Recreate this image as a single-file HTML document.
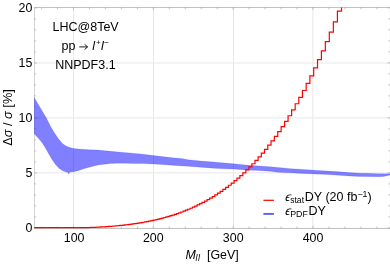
<!DOCTYPE html>
<html><head><meta charset="utf-8"><style>
html,body{margin:0;padding:0;background:#fff;}
svg{display:block;font-family:"Liberation Sans",sans-serif;font-size:12.4px;fill:#000;}
.i{font-style:italic;}
</style></head><body>
<svg width="390" height="264" viewBox="0 0 390 264">
<rect width="390" height="264" fill="#fff"/>
<defs><clipPath id="c"><rect x="34.2" y="7.45" width="356.2" height="222.0"/></clipPath></defs>
<g stroke="#e7e7e7" stroke-width="1" fill="none"><line x1="73.5" y1="7.45" x2="73.5" y2="228.45"/><line x1="153.5" y1="7.45" x2="153.5" y2="228.45"/><line x1="233.5" y1="7.45" x2="233.5" y2="228.45"/><line x1="312.9" y1="7.45" x2="312.9" y2="228.45"/><line x1="34.5" y1="172.9" x2="390.4" y2="172.9"/><line x1="34.5" y1="117.9" x2="390.4" y2="117.9"/><line x1="34.5" y1="63.0" x2="390.4" y2="63.0"/></g>
<g stroke="#a0a0a0" stroke-width="0.6" fill="none"><line x1="41.6" y1="7.45" x2="41.6" y2="9.35"/><line x1="41.6" y1="228.45" x2="41.6" y2="226.54999999999998"/><line x1="57.5" y1="7.45" x2="57.5" y2="9.35"/><line x1="57.5" y1="228.45" x2="57.5" y2="226.54999999999998"/><line x1="73.5" y1="7.45" x2="73.5" y2="10.05"/><line x1="73.5" y1="228.45" x2="73.5" y2="225.85"/><line x1="89.5" y1="7.45" x2="89.5" y2="9.35"/><line x1="89.5" y1="228.45" x2="89.5" y2="226.54999999999998"/><line x1="105.4" y1="7.45" x2="105.4" y2="9.35"/><line x1="105.4" y1="228.45" x2="105.4" y2="226.54999999999998"/><line x1="121.4" y1="7.45" x2="121.4" y2="9.35"/><line x1="121.4" y1="228.45" x2="121.4" y2="226.54999999999998"/><line x1="137.4" y1="7.45" x2="137.4" y2="9.35"/><line x1="137.4" y1="228.45" x2="137.4" y2="226.54999999999998"/><line x1="153.3" y1="7.45" x2="153.3" y2="10.05"/><line x1="153.3" y1="228.45" x2="153.3" y2="225.85"/><line x1="169.3" y1="7.45" x2="169.3" y2="9.35"/><line x1="169.3" y1="228.45" x2="169.3" y2="226.54999999999998"/><line x1="185.3" y1="7.45" x2="185.3" y2="9.35"/><line x1="185.3" y1="228.45" x2="185.3" y2="226.54999999999998"/><line x1="201.2" y1="7.45" x2="201.2" y2="9.35"/><line x1="201.2" y1="228.45" x2="201.2" y2="226.54999999999998"/><line x1="217.2" y1="7.45" x2="217.2" y2="9.35"/><line x1="217.2" y1="228.45" x2="217.2" y2="226.54999999999998"/><line x1="233.2" y1="7.45" x2="233.2" y2="10.05"/><line x1="233.2" y1="228.45" x2="233.2" y2="225.85"/><line x1="249.1" y1="7.45" x2="249.1" y2="9.35"/><line x1="249.1" y1="228.45" x2="249.1" y2="226.54999999999998"/><line x1="265.1" y1="7.45" x2="265.1" y2="9.35"/><line x1="265.1" y1="228.45" x2="265.1" y2="226.54999999999998"/><line x1="281.1" y1="7.45" x2="281.1" y2="9.35"/><line x1="281.1" y1="228.45" x2="281.1" y2="226.54999999999998"/><line x1="297.0" y1="7.45" x2="297.0" y2="9.35"/><line x1="297.0" y1="228.45" x2="297.0" y2="226.54999999999998"/><line x1="313.0" y1="7.45" x2="313.0" y2="10.05"/><line x1="313.0" y1="228.45" x2="313.0" y2="225.85"/><line x1="329.0" y1="7.45" x2="329.0" y2="9.35"/><line x1="329.0" y1="228.45" x2="329.0" y2="226.54999999999998"/><line x1="344.9" y1="7.45" x2="344.9" y2="9.35"/><line x1="344.9" y1="228.45" x2="344.9" y2="226.54999999999998"/><line x1="360.9" y1="7.45" x2="360.9" y2="9.35"/><line x1="360.9" y1="228.45" x2="360.9" y2="226.54999999999998"/><line x1="376.9" y1="7.45" x2="376.9" y2="9.35"/><line x1="376.9" y1="228.45" x2="376.9" y2="226.54999999999998"/><line x1="34.5" y1="227.9" x2="36.9" y2="227.9"/><line x1="390.4" y1="227.9" x2="387.5" y2="227.9"/><line x1="34.5" y1="216.9" x2="36.1" y2="216.9"/><line x1="390.4" y1="216.9" x2="388.29999999999995" y2="216.9"/><line x1="34.5" y1="205.9" x2="36.1" y2="205.9"/><line x1="390.4" y1="205.9" x2="388.29999999999995" y2="205.9"/><line x1="34.5" y1="194.9" x2="36.1" y2="194.9"/><line x1="390.4" y1="194.9" x2="388.29999999999995" y2="194.9"/><line x1="34.5" y1="183.9" x2="36.1" y2="183.9"/><line x1="390.4" y1="183.9" x2="388.29999999999995" y2="183.9"/><line x1="34.5" y1="172.9" x2="36.9" y2="172.9"/><line x1="390.4" y1="172.9" x2="387.5" y2="172.9"/><line x1="34.5" y1="161.9" x2="36.1" y2="161.9"/><line x1="390.4" y1="161.9" x2="388.29999999999995" y2="161.9"/><line x1="34.5" y1="150.9" x2="36.1" y2="150.9"/><line x1="390.4" y1="150.9" x2="388.29999999999995" y2="150.9"/><line x1="34.5" y1="139.9" x2="36.1" y2="139.9"/><line x1="390.4" y1="139.9" x2="388.29999999999995" y2="139.9"/><line x1="34.5" y1="128.9" x2="36.1" y2="128.9"/><line x1="390.4" y1="128.9" x2="388.29999999999995" y2="128.9"/><line x1="34.5" y1="117.9" x2="36.9" y2="117.9"/><line x1="390.4" y1="117.9" x2="387.5" y2="117.9"/><line x1="34.5" y1="106.9" x2="36.1" y2="106.9"/><line x1="390.4" y1="106.9" x2="388.29999999999995" y2="106.9"/><line x1="34.5" y1="95.9" x2="36.1" y2="95.9"/><line x1="390.4" y1="95.9" x2="388.29999999999995" y2="95.9"/><line x1="34.5" y1="84.9" x2="36.1" y2="84.9"/><line x1="390.4" y1="84.9" x2="388.29999999999995" y2="84.9"/><line x1="34.5" y1="73.9" x2="36.1" y2="73.9"/><line x1="390.4" y1="73.9" x2="388.29999999999995" y2="73.9"/><line x1="34.5" y1="62.9" x2="36.9" y2="62.9"/><line x1="390.4" y1="62.9" x2="387.5" y2="62.9"/><line x1="34.5" y1="51.9" x2="36.1" y2="51.9"/><line x1="390.4" y1="51.9" x2="388.29999999999995" y2="51.9"/><line x1="34.5" y1="40.9" x2="36.1" y2="40.9"/><line x1="390.4" y1="40.9" x2="388.29999999999995" y2="40.9"/><line x1="34.5" y1="29.9" x2="36.1" y2="29.9"/><line x1="390.4" y1="29.9" x2="388.29999999999995" y2="29.9"/><line x1="34.5" y1="18.9" x2="36.1" y2="18.9"/><line x1="390.4" y1="18.9" x2="388.29999999999995" y2="18.9"/><line x1="34.5" y1="7.9" x2="36.9" y2="7.9"/><line x1="390.4" y1="7.9" x2="387.5" y2="7.9"/></g>
<g stroke="#9a9a9a" fill="none"><path d="M34.5,7.45H390.4M34.5,228.45H390.4" stroke-width="0.65"/><path d="M34.5,7.45V228.45M390.4,7.45V228.45" stroke-width="0.45"/></g>
<g clip-path="url(#c)">
<path d="M34.0,97.3 L37.7,103.5 L41.6,110.0 L45.5,116.4 L47.4,120.0 L50.6,126.4 L54.5,132.9 L58.4,138.7 L62.2,143.2 L64.5,145.0 L66.1,146.0 L68.4,146.9 L69.9,147.6 L73.8,148.5 L81.2,149.3 L90.0,149.8 L97.9,150.1 L110.8,151.3 L123.7,152.5 L135.0,153.4 L142.9,154.2 L153.5,155.6 L166.1,157.0 L175.0,157.9 L181.4,158.4 L187.9,159.7 L200.8,161.1 L213.7,162.1 L225.0,163.0 L233.5,163.8 L245.8,165.1 L258.7,166.0 L270.0,166.7 L277.9,167.4 L290.8,168.7 L303.7,169.6 L315.0,170.3 L322.9,170.8 L335.8,171.6 L348.7,172.6 L360.0,173.2 L365.6,173.3 L378.5,173.8 L390.0,173.7 L390.0,175.1 L383.6,176.4 L378.5,176.7 L365.6,176.5 L360.0,176.4 L348.7,175.9 L335.8,175.1 L322.9,174.3 L315.0,174.0 L303.7,173.5 L290.8,172.8 L277.9,172.2 L270.0,171.3 L258.7,170.6 L245.8,170.0 L233.5,169.1 L225.0,168.8 L213.7,168.2 L200.8,167.2 L187.9,166.3 L175.0,165.4 L166.1,164.7 L153.5,164.0 L142.9,163.5 L135.0,163.5 L123.7,163.2 L117.2,163.2 L110.8,163.6 L104.3,164.2 L97.9,165.1 L90.0,167.0 L83.8,168.8 L78.7,170.4 L73.8,171.7 L70.9,172.1 L69.3,172.6 L68.6,174.1 L67.9,172.6 L66.4,172.1 L63.2,171.0 L59.3,168.6 L55.5,164.6 L51.6,158.8 L47.7,152.0 L44.7,146.8 L41.6,141.9 L37.7,137.4 L34.0,133.5Z" fill="#0000ff" fill-opacity="0.5" stroke="#0000ff" stroke-opacity="0.18" stroke-width="0.7"/>
<path d="M32.18,227.67 L32.64,227.67 L32.64,227.67 L33.11,227.67 L33.11,227.67 L33.58,227.67 L33.58,227.67 L34.05,227.67 L34.05,227.67 L34.54,227.67 L34.54,227.67 L35.02,227.67 L35.02,227.67 L35.52,227.67 L35.52,227.67 L36.02,227.67 L36.02,227.67 L36.52,227.67 L36.52,227.67 L37.03,227.67 L37.03,227.67 L37.55,227.67 L37.55,227.67 L38.07,227.67 L38.07,227.67 L38.60,227.67 L38.60,227.67 L39.14,227.67 L39.14,227.67 L39.68,227.67 L39.68,227.67 L40.23,227.67 L40.23,227.67 L40.78,227.67 L40.78,227.67 L41.35,227.67 L41.35,227.67 L41.92,227.67 L41.92,227.67 L42.49,227.67 L42.49,227.67 L43.07,227.67 L43.07,227.67 L43.66,227.67 L43.66,227.67 L44.26,227.67 L44.26,227.67 L44.87,227.67 L44.87,227.67 L45.48,227.67 L45.48,227.67 L46.09,227.67 L46.09,227.67 L46.72,227.67 L46.72,227.67 L47.35,227.67 L47.35,227.67 L48.00,227.67 L48.00,227.67 L48.64,227.67 L48.64,227.67 L49.30,227.67 L49.30,227.67 L49.97,227.67 L49.97,227.67 L50.64,227.67 L50.64,227.67 L51.32,227.67 L51.32,227.67 L52.01,227.67 L52.01,227.67 L52.70,227.67 L52.70,227.67 L53.41,227.67 L53.41,227.67 L54.12,227.67 L54.12,227.67 L54.85,227.67 L54.85,227.67 L55.58,227.67 L55.58,227.67 L56.32,227.67 L56.32,227.67 L57.06,227.67 L57.06,227.67 L57.82,227.67 L57.82,227.67 L58.59,227.67 L58.59,227.67 L59.36,227.67 L59.36,227.67 L60.15,227.67 L60.15,227.67 L60.94,227.67 L60.94,227.67 L61.75,227.67 L61.75,227.67 L62.56,227.67 L62.56,227.67 L63.39,227.67 L63.39,227.67 L64.22,227.67 L64.22,227.67 L65.06,227.67 L65.06,227.67 L65.92,227.67 L65.92,227.67 L66.78,227.67 L66.78,227.67 L67.65,227.67 L67.65,227.67 L68.54,227.67 L68.54,227.67 L69.43,227.67 L69.43,227.67 L70.34,227.67 L70.34,227.67 L71.26,227.67 L71.26,227.67 L72.19,227.67 L72.19,227.67 L73.12,227.67 L73.12,227.67 L74.08,227.67 L74.08,227.67 L75.04,227.67 L75.04,227.67 L76.01,227.67 L76.01,227.67 L77.00,227.67 L77.00,227.67 L77.99,227.67 L77.99,227.67 L79.00,227.67 L79.00,227.67 L80.02,227.67 L80.02,227.67 L81.05,227.67 L81.05,227.67 L82.10,227.67 L82.10,227.67 L83.16,227.67 L83.16,227.67 L84.23,227.67 L84.23,227.66 L85.31,227.66 L85.31,227.63 L86.41,227.63 L86.41,227.59 L87.52,227.59 L87.52,227.56 L88.64,227.56 L88.64,227.52 L89.78,227.52 L89.78,227.48 L90.93,227.48 L90.93,227.43 L92.09,227.43 L92.09,227.39 L93.27,227.39 L93.27,227.34 L94.46,227.34 L94.46,227.29 L95.67,227.29 L95.67,227.23 L96.89,227.23 L96.89,227.17 L98.13,227.17 L98.13,227.11 L99.38,227.11 L99.38,227.04 L100.64,227.04 L100.64,226.97 L101.92,226.97 L101.92,226.90 L103.22,226.90 L103.22,226.82 L104.53,226.82 L104.53,226.74 L105.86,226.74 L105.86,226.65 L107.20,226.65 L107.20,226.56 L108.56,226.56 L108.56,226.46 L109.93,226.46 L109.93,226.36 L111.33,226.36 L111.33,226.25 L112.73,226.25 L112.73,226.13 L114.16,226.13 L114.16,226.01 L115.60,226.01 L115.60,225.88 L117.06,225.88 L117.06,225.74 L118.54,225.74 L118.54,225.60 L120.04,225.60 L120.04,225.45 L121.55,225.45 L121.55,225.29 L123.08,225.29 L123.08,225.12 L124.63,225.12 L124.63,224.95 L126.20,224.95 L126.20,224.76 L127.79,224.76 L127.79,224.56 L129.39,224.56 L129.39,224.36 L131.02,224.36 L131.02,224.14 L132.66,224.14 L132.66,223.91 L134.33,223.91 L134.33,223.67 L136.01,223.67 L136.01,223.41 L137.72,223.41 L137.72,223.14 L139.44,223.14 L139.44,222.86 L141.19,222.86 L141.19,222.56 L142.96,222.56 L142.96,222.25 L144.74,222.25 L144.74,221.92 L146.55,221.92 L146.55,221.58 L148.39,221.58 L148.39,221.21 L150.24,221.21 L150.24,220.83 L152.12,220.83 L152.12,220.42 L154.01,220.42 L154.01,220.00 L155.93,220.00 L155.93,219.55 L157.88,219.55 L157.88,219.08 L159.85,219.08 L159.85,218.59 L161.84,218.59 L161.84,218.06 L163.85,218.06 L163.85,217.52 L165.89,217.52 L165.89,216.94 L167.95,216.94 L167.95,216.34 L170.04,216.34 L170.04,215.70 L172.16,215.70 L172.16,215.03 L174.29,215.03 L174.29,214.32 L176.46,214.32 L176.46,213.58 L178.65,213.58 L178.65,212.80 L180.87,212.80 L180.87,211.99 L183.11,211.99 L183.11,211.12 L185.38,211.12 L185.38,210.22 L187.68,210.22 L187.68,209.27 L190.00,209.27 L190.00,208.26 L192.35,208.26 L192.35,207.21 L194.74,207.21 L194.74,206.10 L197.15,206.10 L197.15,204.94 L199.58,204.94 L199.58,203.71 L202.05,203.71 L202.05,202.43 L204.55,202.43 L204.55,201.07 L207.08,201.07 L207.08,199.65 L209.63,199.65 L209.63,198.15 L212.22,198.15 L212.22,196.57 L214.84,196.57 L214.84,194.92 L217.49,194.92 L217.49,193.18 L220.18,193.18 L220.18,191.35 L222.89,191.35 L222.89,189.42 L225.64,189.42 L225.64,187.40 L228.42,187.40 L228.42,185.27 L231.23,185.27 L231.23,183.03 L234.08,183.03 L234.08,180.67 L236.96,180.67 L236.96,178.20 L239.88,178.20 L239.88,175.59 L242.83,175.59 L242.83,172.85 L245.82,172.85 L245.82,169.97 L248.84,169.97 L248.84,166.95 L251.90,166.95 L251.90,163.76 L254.99,163.76 L254.99,160.41 L258.13,160.41 L258.13,156.89 L261.30,156.89 L261.30,153.18 L264.51,153.18 L264.51,149.28 L267.75,149.28 L267.75,145.19 L271.04,145.19 L271.04,140.88 L274.36,140.88 L274.36,136.34 L277.73,136.34 L277.73,131.57 L281.13,131.57 L281.13,126.56 L284.58,126.56 L284.58,121.28 L288.07,121.28 L288.07,115.74 L291.60,115.74 L291.60,109.90 L295.17,109.90 L295.17,103.76 L298.79,103.76 L298.79,97.31 L302.44,97.31 L302.44,90.52 L306.15,90.52 L306.15,83.38 L309.89,83.38 L309.89,75.87 L313.68,75.87 L313.68,67.97 L317.52,67.97 L317.52,59.66 L321.40,59.66 L321.40,50.92 L325.33,50.92 L325.33,41.72 L329.31,41.72 L329.31,32.05 L333.34,32.05 L333.34,21.88 L337.41,21.88 L337.41,11.18 L341.53,11.18 L341.53,-0.07 L345.70,-0.07 L345.70,-11.91 L349.92,-11.91 L349.92,-24.36 L354.19,-24.36 L354.19,-37.45 L358.52,-37.45 L358.52,-51.23 L362.89,-51.23 L362.89,-65.72 L367.32,-65.72 L367.32,-80.96 L371.80,-80.96 L371.80,-96.99 L376.34,-96.99 L376.34,-113.85 L380.92,-113.85 L380.92,-131.59 L385.57,-131.59 L385.57,-150.24 L390.27,-150.24" fill="none" stroke="#ff0000" stroke-width="1.2" stroke-linejoin="miter"/>
</g>
<g style="will-change:transform;filter:grayscale(1)">
<g><text x="74.1" y="242" text-anchor="middle">100</text><text x="153.3" y="242" text-anchor="middle">200</text><text x="233.2" y="242" text-anchor="middle">300</text><text x="313.0" y="242" text-anchor="middle">400</text><text x="32.4" y="232.3" text-anchor="end">0</text><text x="32.4" y="177.3" text-anchor="end">5</text><text x="32.4" y="122.3" text-anchor="end">10</text><text x="32.4" y="67.3" text-anchor="end">15</text><text x="32.4" y="12.3" text-anchor="end">20</text></g>
<text x="85.6" y="31.2" text-anchor="middle" font-size="12.5">LHC@8TeV</text>
<text x="61.6" y="49.6" font-size="12.5">pp</text>
<path d="M79.2,46.9H87.4M84.6,44.3L87.6,46.9L84.6,49.5" fill="none" stroke="#000" stroke-width="0.9"/>
<text x="92.2" y="49.8" class="i" font-size="12.5">l</text>
<text x="96.0" y="44.6" font-size="8">+</text>
<text x="100.9" y="49.8" class="i" font-size="12.5">l</text>
<text x="104.3" y="44.6" font-size="8">−</text>
<text x="85.4" y="68.9" text-anchor="middle" font-size="12.5">NNPDF3.1</text>
<text transform="translate(12.4,117.5) rotate(-90)" text-anchor="middle" font-size="12.75">Δ<tspan class="i">σ</tspan> / <tspan class="i">σ</tspan> [%]</text>
<text x="185.6" y="259.1" class="i">M</text>
<text x="195.4" y="260.8" class="i" font-size="8.8" letter-spacing="0.7">ll</text>
<text x="207.0" y="259.1">[GeV]</text>
<text transform="translate(284.8,201.3) skewX(-10)" class="i" font-size="12.5">ϵ</text>
<text x="290.2" y="202.7" font-size="8.6">stat</text>
<text x="304.8" y="201.3" font-size="12.5">DY (20 fb<tspan dy="-4.2" font-size="8.8">−1</tspan><tspan dy="4.2">)</tspan></text>
<text transform="translate(284.8,214.7) skewX(-10)" class="i" font-size="12.5">ϵ</text>
<text x="290.2" y="216.5" font-size="8.8">PDF</text>
<text x="308.5" y="214.7" font-size="12.5">DY</text>
</g>
<line x1="263.4" y1="200.3" x2="273.9" y2="200.3" stroke="#ff0000" stroke-width="1.2"/>
<line x1="263.4" y1="213.9" x2="273.9" y2="213.9" stroke="#5c5cff" stroke-width="1.9"/>
</svg>
</body></html>
